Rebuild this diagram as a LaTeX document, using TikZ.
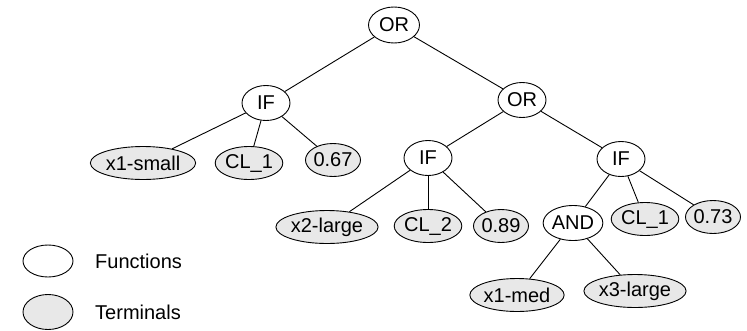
\documentclass[tikz,border=0pt]{standalone}
\usepackage{fontspec}
\setmainfont{Liberation Sans}
\usepackage{tikz}
\usetikzlibrary{shapes.geometric}
\tikzstyle{func} = [ellipse, inner sep=0pt, minimum width=48pt, minimum height=35pt, draw=black, line width=0.9pt, fill=white, font=\fontsize{20}{24}\selectfont]
\tikzstyle{term} = [ellipse, inner sep=0pt, minimum width=48pt, minimum height=33pt, draw=black, line width=0.9pt, fill=black!9, font=\fontsize{20}{24}\selectfont]
\tikzstyle{legendtext} = [anchor=west, inner sep=0pt, font=\fontsize{20}{24}\selectfont]
\tikzstyle{branch} = [line width=0.9pt]

\begin{document}
\begin{tikzpicture}[x=1pt, y=1pt, node distance=60pt]
        \useasboundingbox (0,0) rectangle (747,-330);

        \node (orRoot) [func, minimum width=51pt, minimum height=36pt] at (394,-25) {OR};
        \node (ifLeft) [func, below of=orRoot, xshift=-128pt, yshift=-18pt] {IF};
        \node (orRight) [func, below of=orRoot, xshift=128pt, yshift=-15pt] {OR};
        \node (xSmall) [term, below of=ifLeft, xshift=-123pt] {x1-small};
        \node (clOneLeft) [term, below of=ifLeft, xshift=-17pt] {CL\_1};
        \node (valLeft) [term, below of=ifLeft, xshift=67pt, yshift=3pt] {0.67};
        \node (ifMid) [func, below of=orRight, xshift=-94pt, yshift=2pt] {IF};
        \node (ifRight) [func, below of=orRight, xshift=99pt, yshift=1pt] {IF};
        \node (xLargeTwo) [term, below of=ifMid, xshift=-101pt, yshift=-9pt] {x2-large};
        \node (clTwo) [term, below of=ifMid, yshift=-8pt] {CL\_2};
        \node (valMid) [term, below of=ifMid, xshift=73pt, yshift=-8pt] {0.89};
        \node (andNode) [func, below of=ifRight, xshift=-48pt, yshift=-4pt] {AND};
        \node (clOneRight) [term, below of=ifRight, xshift=24pt] {CL\_1};
        \node (valRight) [term, below of=ifRight, xshift=92pt, yshift=2pt] {0.73};
        \node (xMed) [term, below of=andNode, xshift=-56pt, yshift=-12pt] {x1-med};
        \node (xLargeThree) [term, below of=andNode, xshift=62pt, yshift=-8pt] {x3-large};

        \node (legendFunc) [func, minimum width=50pt, minimum height=32pt] at (48,-261) {};
        \node (legendTerm) [term, minimum width=50pt, minimum height=35pt, below of=legendFunc, yshift=9pt] {};
        \node (labelFunc) [right of=legendFunc, xshift=-13pt, legendtext] {Functions};
        \node (labelTerm) [right of=legendTerm, xshift=-13pt, legendtext] {Terminals};

        \draw [branch] (orRoot) -- (ifLeft);
        \draw [branch] (orRoot) -- (orRight);
        \draw [branch] (ifLeft) -- (xSmall);
        \draw [branch] (ifLeft) -- (clOneLeft);
        \draw [branch] (ifLeft) -- (valLeft);
        \draw [branch] (orRight) -- (ifMid);
        \draw [branch] (orRight) -- (ifRight);
        \draw [branch] (ifMid) -- (xLargeTwo);
        \draw [branch] (ifMid) -- (clTwo);
        \draw [branch] (ifMid) -- (valMid);
        \draw [branch] (ifRight) -- (andNode);
        \draw [branch] (ifRight) -- (clOneRight);
        \draw [branch] (ifRight) -- (valRight);
        \draw [branch] (andNode) -- (xMed);
        \draw [branch] (andNode) -- (xLargeThree);

      \end{tikzpicture}
\end{document}
